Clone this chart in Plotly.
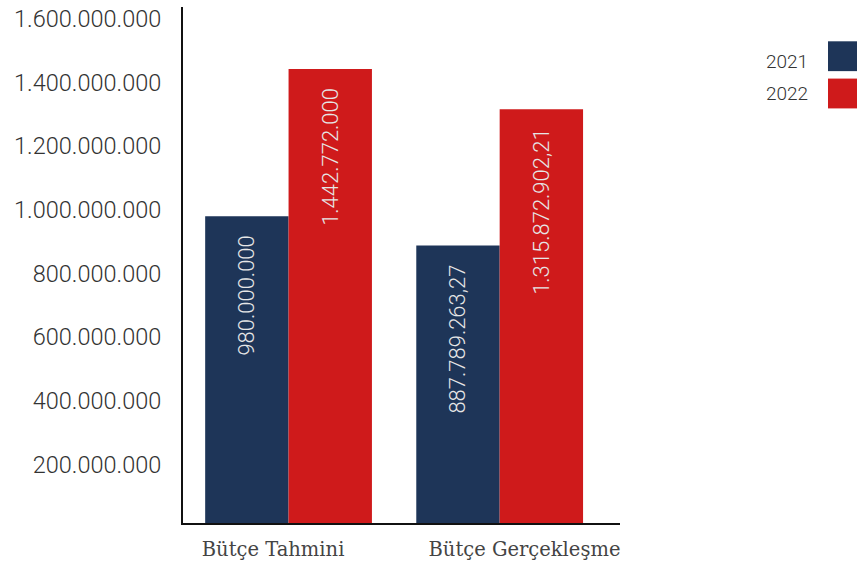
import plotly.graph_objects as go

categories = ["Bütçe Tahmini", "Bütçe Gerçekleşme"]
series_names = ["2021", "2022"]
values_2021 = [980000000, 887789263.27]
values_2022 = [1442772000, 1315872902.21]
labels_2021 = ["980.000.000", "887.789.263,27"]
labels_2022 = ["1.442.772.000", "1.315.872.902,21"]
y_ticks = [200000000, 400000000, 600000000, 800000000, 1000000000, 1200000000, 1400000000, 1600000000]

colors = ["#1E3558", "#CF1A1B"]
pad = "\u00a0\u00a0\u00a0"
nb = "\u00a0"
tick_text = [categories[0] + nb * 5, nb * 8 + categories[1]]

fig = go.Figure()
for name, vals, labs, col in zip(series_names, [values_2021, values_2022], [labels_2021, labels_2022], colors):
    fig.add_trace(go.Bar(
        x=categories, y=vals, name=name, marker=dict(color=col, line=dict(width=0)),
        text=[l + pad for l in labs], textposition="inside", insidetextanchor="end",
        textangle=-90, textfont=dict(family="Roboto", size=22, color="#E6E6E6", weight=300),
        hoverinfo="skip", cliponaxis=True,
    ))

fig.update_layout(
    width=857, height=566,
    margin=dict(l=183, r=237, t=5, b=42),
    plot_bgcolor="white", paper_bgcolor="white",
    barmode="group", bargap=0.21, bargroupgap=0,
    showlegend=False,
    separators=",.",
)
fig.update_xaxes(
    range=[-0.5, 1.57], showline=True, linecolor="#111", linewidth=2,
    showgrid=False, ticks="", tickfont=dict(family="DejaVu Serif", size=19.5, color="#444"),
    tickmode="array", tickvals=categories, ticktext=tick_text,
    ticklabelstandoff=8,
)
fig.update_yaxes(
    range=[15600000, 1637500000], showline=True, linecolor="#111", linewidth=2,
    showgrid=False, zeroline=False, tickvals=y_ticks, tickformat=",d",
    tickfont=dict(family="Roboto", size=23.5, color="#333", weight=300),
    ticklabelstandoff=15, ticks="",
)

# custom legend (text left, swatch right)
text_y = [60, 92]
swatch_y = [54.5, 92]
for name, col, ty, sy in zip(series_names, colors, text_y, swatch_y):
    fig.add_annotation(xref="paper", yref="paper", x=(810 - 183) / 437.0, y=1 - (ty - 5) / 519.0,
                       text=name, showarrow=False, xanchor="right", yanchor="middle",
                       font=dict(family="Roboto", size=19, color="#333", weight=300))
    fig.add_shape(type="rect", xref="paper", yref="paper",
                  x0=(828 - 183) / 437.0, x1=(857 - 183) / 437.0,
                  y0=1 - (sy + 15 - 5) / 519.0, y1=1 - (sy - 15 - 5) / 519.0,
                  fillcolor=col, line=dict(width=0))

fig.write_html("out.html", config={"displayModeBar": False},
               post_script="document.body.style.margin='0';document.body.style.padding='0';")
